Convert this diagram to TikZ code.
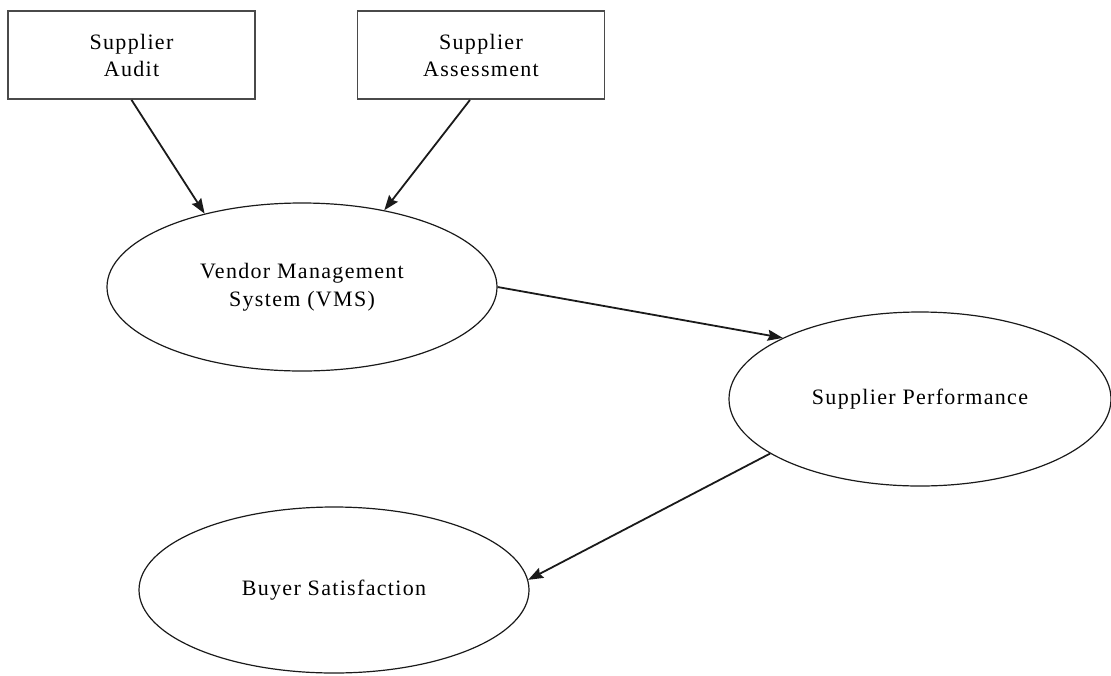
\documentclass[tikz,border=0pt]{standalone}
\usepackage{fontspec}
\setmainfont{Liberation Serif}[LetterSpace=6]
\usepackage{tikz}
\usetikzlibrary{arrows.meta,shapes.geometric}
\definecolor{vmBox}{HTML}{4A4A4A}
\definecolor{vmLine}{HTML}{1A1A1A}

\begin{document}
\begin{tikzpicture}[x=1pt, y=-1pt,
    box/.style={draw=vmBox, line width=1.8pt, rectangle, minimum width=247pt,
        minimum height=88pt, align=center, font=\fontsize{22}{27}\selectfont},
    oval/.style={draw=vmLine, line width=1.2pt, ellipse, inner sep=0pt,
        align=center, font=\fontsize{22}{28}\selectfont},
    link/.style={draw=vmLine, line width=1.8pt, -{Stealth[length=15pt, width=11pt, inset=2pt]}}]
    \useasboundingbox (0,0) rectangle (1111,675);
    % inputs
    \node[box] (audit)  at (131.5,55) {Supplier\\Audit};
    \node[box] (assess) at (481,55)   {Supplier\\Assessment};
    % constructs
    \node[oval, minimum width=390pt, minimum height=168pt] (vms)   at (302,287) {Vendor Management\\System (VMS)};
    \node[oval, minimum width=382pt, minimum height=174pt] (perf)  at (920,399) {Supplier Performance};
    \node[oval, minimum width=390pt, minimum height=166pt] (buyer) at (334,590) {Buyer Satisfaction};
    % paths
    \draw[link] (audit.south) -- (vms.143.5);
    \draw[link] ([xshift=-11pt]assess.south) -- (vms.43);
    \draw[link] (vms.east) -- (perf.156);
    \draw[link] (perf.200) -- (buyer.3.5);
\end{tikzpicture}
\end{document}
